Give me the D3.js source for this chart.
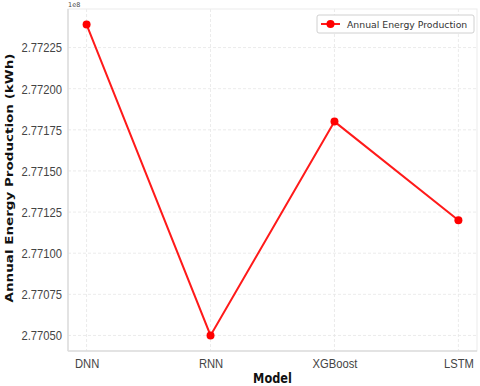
<!DOCTYPE html>
<html>
<head>
<meta charset="utf-8">
<script src="https://cdn.jsdelivr.net/npm/d3@7"></script>
<style>
  body { margin: 0; background: #fff; }
  svg { font-family: "DejaVu Sans", sans-serif; }
</style>
</head>
<body>
<div id="chart"></div>
<script>
// modèles et production annuelle (en 1e8 kWh)
const models = ["DNN", "RNN", "XGBoost", "LSTM"]
const production = [2.77239, 2.77050, 2.77180, 2.77120]
const yTicks = [2.77050, 2.77075, 2.77100, 2.77125, 2.77150, 2.77175, 2.77200, 2.77225]
const seriesName = "Annual Energy Production"

const W = 480, H = 386
const margin = { top: 9, right: 3, bottom: 35, left: 68 }
const width = W - margin.left - margin.right
const height = H - margin.top - margin.bottom
const squeeze = 0.83 // l'image d'origine est un peu tassée en largeur

const svg = d3.select("#chart").append("svg")
    .attr("width", W)
    .attr("height", H)

const g = svg.append("g").attr("transform", `translate(${margin.left},${margin.top})`)

// tasser horizontalement un texte
function narrow(sel, k) {
    sel.each(function () {
        const len = this.getComputedTextLength()
        d3.select(this).attr("textLength", len * k).attr("lengthAdjust", "spacingAndGlyphs")
    })
}

// échelles avec marge de 5% comme matplotlib
const xIdx = d3.scaleLinear().domain([-0.15, models.length - 1 + 0.15]).range([0, width])
const [ymin, ymax] = d3.extent(production)
const pad = (ymax - ymin) * 0.05
const y = d3.scaleLinear().domain([ymin - pad, ymax + pad]).range([height, 0])

// grille
g.append("g").selectAll("line").data(yTicks).join("line")
    .attr("x1", 0).attr("x2", width)
    .attr("y1", d => y(d)).attr("y2", d => y(d))
    .attr("stroke", "#e6e6e6").attr("stroke-dasharray", "3,2").attr("stroke-width", 0.8)
g.append("g").selectAll("line").data(models).join("line")
    .attr("y1", 0).attr("y2", height)
    .attr("x1", (d, i) => xIdx(i)).attr("x2", (d, i) => xIdx(i))
    .attr("stroke", "#e6e6e6").attr("stroke-dasharray", "3,2").attr("stroke-width", 0.8)

// cadre
g.append("rect").attr("width", width).attr("height", height)
    .attr("fill", "none").attr("stroke", "#ebebeb").attr("stroke-width", 1)
g.append("line").attr("x1", 0).attr("x2", 0).attr("y1", 0).attr("y2", height)
    .attr("stroke", "#dcdcdc").attr("stroke-width", 1.5)
g.append("line").attr("x1", 0).attr("x2", width).attr("y1", height).attr("y2", height)
    .attr("stroke", "#dcdcdc").attr("stroke-width", 1.5)

// axes
const yAxis = g.append("g")
    .call(d3.axisLeft(y).tickValues(yTicks).tickFormat(d3.format(".5f")).tickSize(0).tickPadding(6))
yAxis.select(".domain").remove()
yAxis.selectAll("text").attr("font-size", 13.5).attr("fill", "#444").call(narrow, squeeze)

const xAxis = g.append("g").attr("transform", `translate(0,${height})`)
    .call(d3.axisBottom(xIdx).tickValues(d3.range(models.length)).tickFormat(i => models[i]).tickSize(0).tickPadding(7))
xAxis.select(".domain").remove()
xAxis.selectAll("text").attr("font-size", 13.5).attr("fill", "#444").call(narrow, squeeze)

// offset
svg.append("text").attr("x", margin.left).attr("y", 7)
    .attr("font-size", 6.5).attr("fill", "#444").text("1e8")

// titres des axes
svg.append("text")
    .attr("transform", `translate(9,${margin.top + height / 2 - 2}) scale(${squeeze},1) rotate(-90)`)
    .attr("text-anchor", "middle").attr("dominant-baseline", "central")
    .attr("font-size", 13.5).attr("font-weight", "bold").attr("fill", "#111")
    .text("Annual Energy Production (kWh)")
svg.append("text")
    .attr("x", margin.left + width / 2).attr("y", 383)
    .attr("text-anchor", "middle")
    .attr("font-size", 13.5).attr("font-weight", "bold").attr("fill", "#111")
    .text("Model")
    .call(narrow, 0.84)

// ligne
const line = d3.line().x((d, i) => xIdx(i)).y(d => y(d))
g.append("path").datum(production)
    .attr("d", line).attr("fill", "none").attr("stroke", "#ff1a1a").attr("stroke-width", 2)
g.selectAll("circle").data(production).join("circle")
    .attr("cx", (d, i) => xIdx(i)).attr("cy", d => y(d)).attr("r", 4)
    .attr("fill", "#ff0000")

// légende
const leg = svg.append("g").attr("transform", "translate(317,15)")
leg.append("rect").attr("width", 157).attr("height", 18).attr("rx", 2)
    .attr("fill", "#fff").attr("stroke", "#d0d0d0")
leg.append("line").attr("x1", 4).attr("x2", 23).attr("y1", 9).attr("y2", 9)
    .attr("stroke", "#ff1a1a").attr("stroke-width", 2)
leg.append("circle").attr("cx", 13.5).attr("cy", 9).attr("r", 4).attr("fill", "#ff0000")
leg.append("text").attr("x", 30).attr("y", 12.5)
    .attr("font-size", 9.3).attr("fill", "#333").text(seriesName)
</script>
</body>
</html>
